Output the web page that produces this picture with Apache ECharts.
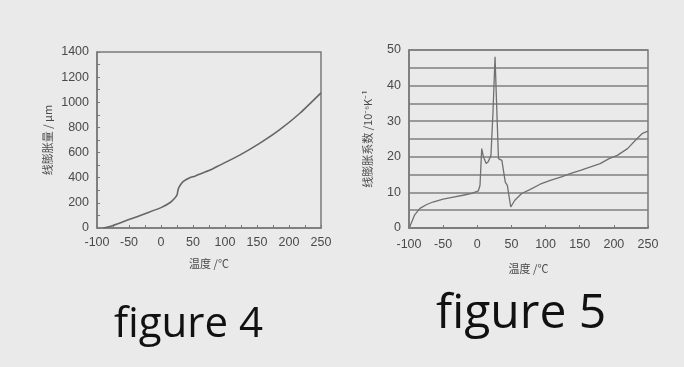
<!DOCTYPE html>
<html>
<head>
<meta charset="utf-8">
<script src="https://cdn.jsdelivr.net/npm/echarts@6/dist/echarts.min.js"></script>
<style>
  html, body { margin: 0; padding: 0; background: #eaeaea; }
  #chart { width: 684px; height: 367px; }
</style>
</head>
<body>
<div id="chart"></div>
<script>
// figure 4: 线膨胀量 vs 温度
const tempA = [-90, -75, -50, -25, 0, 15, 22, 25, 27, 30, 35, 45, 53, 60, 76, 92, 123, 154, 185, 217, 250];
const strainA = [0, 20, 67, 114, 162, 205, 240, 262, 310, 340, 370, 400, 412, 428, 459, 500, 580, 673, 780, 913, 1075];

// figure 5: 线膨胀系数 vs 温度
const tempB = [-99, -92, -84, -74, -65, -50, -35, -21, -8, 1.5, 4, 6.5, 9, 13, 16, 20, 23, 26, 28.5, 31, 36, 41, 44, 49, 55, 65, 77, 92, 107, 122, 136, 151, 166, 180, 193, 205, 220, 232, 242, 250];
const coefB = [0.3, 3.6, 5.5, 6.6, 7.3, 8.1, 8.7, 9.2, 9.7, 10.4, 12, 22.3, 20, 18.1, 18.6, 20.4, 32.6, 48.1, 33.6, 19.5, 19, 12.9, 12, 5.9, 7.8, 9.7, 10.8, 12.3, 13.4, 14.3, 15.3, 16.2, 17.2, 18.1, 19.5, 20.4, 22.3, 24.7, 26.6, 27.2];

// [min, max, tick step, label step]
const xTicksA = [-100, 250, 25, 50];
const xTicksB = [-100, 250, 50, 50];
const yTicksA = [0, 1400, 100, 200];
const yTicksB = [0, 50, 5, 10];

const labelFont = { color: '#4a4a4a', fontSize: 12.5, fontFamily: 'Liberation Sans' };
const cjkFont = { color: '#4a4a4a', fontSize: 11, fontFamily: 'Noto Sans CJK SC' };
const lineGray = '#7a7a7a';

const pairs = (xs, ys) => xs.map((x, i) => [x, ys[i]]);
const every = step => v => (v % step === 0 ? String(v) : '');

const myChart = echarts.init(document.getElementById('chart'));
const option = {
  backgroundColor: '#eaeaea',
  animation: false,
  grid: [
    { left: 97, top: 52, width: 224, height: 176, show: true, borderColor: lineGray, borderWidth: 1.5, backgroundColor: 'transparent' },
    { left: 409, top: 50, width: 239, height: 178, show: true, borderColor: lineGray, borderWidth: 1.5, backgroundColor: 'transparent' }
  ],
  xAxis: [
    {
      gridIndex: 0, type: 'value', min: xTicksA[0], max: xTicksA[1], interval: xTicksA[2],
      name: '温度 /℃', nameLocation: 'middle', nameGap: 30, nameTextStyle: cjkFont,
      axisLine: { onZero: false, lineStyle: { color: lineGray, width: 1.5 } },
      axisTick: { inside: true, length: 3, lineStyle: { color: lineGray } },
      axisLabel: Object.assign({ margin: 8, formatter: every(xTicksA[3]) }, labelFont),
      splitLine: { show: false }
    },
    {
      gridIndex: 1, type: 'value', min: xTicksB[0], max: xTicksB[1], interval: xTicksB[2],
      name: '温度 /℃', nameLocation: 'middle', nameGap: 35, nameTextStyle: cjkFont,
      axisLine: { onZero: false, lineStyle: { color: lineGray, width: 1.5 } },
      axisTick: { inside: true, length: 3, lineStyle: { color: lineGray } },
      axisLabel: Object.assign({ margin: 10, formatter: every(xTicksB[3]) }, labelFont),
      splitLine: { show: false }
    }
  ],
  yAxis: [
    {
      gridIndex: 0, type: 'value', min: yTicksA[0], max: yTicksA[1], interval: yTicksA[2],
      name: '线膨胀量 / μm', nameLocation: 'middle', nameGap: 44, nameTextStyle: cjkFont,
      axisLine: { show: true, onZero: false, lineStyle: { color: lineGray, width: 1.5 } },
      axisTick: { show: true, inside: true, length: 3, lineStyle: { color: lineGray } },
      axisLabel: Object.assign({ margin: 8, formatter: every(yTicksA[3]) }, labelFont),
      splitLine: { show: false }
    },
    {
      gridIndex: 1, type: 'value', min: yTicksB[0], max: yTicksB[1], interval: yTicksB[2],
      name: '线膨胀系数 /10⁻⁶K⁻¹', nameLocation: 'middle', nameGap: 36, nameTextStyle: cjkFont,
      axisLine: { show: true, onZero: false, lineStyle: { color: lineGray, width: 1.5 } },
      axisTick: { show: false },
      axisLabel: Object.assign({ margin: 8, formatter: every(yTicksB[3]) }, labelFont),
      splitLine: { show: true, lineStyle: { color: '#7f7f7f', width: 1.5 } }
    }
  ],
  series: [
    {
      type: 'line', xAxisIndex: 0, yAxisIndex: 0, smooth: 0.2, showSymbol: false,
      lineStyle: { color: '#666', width: 1.6 },
      data: pairs(tempA, strainA)
    },
    {
      type: 'line', xAxisIndex: 1, yAxisIndex: 1, smooth: false, showSymbol: false,
      lineStyle: { color: '#707070', width: 1.3 },
      data: pairs(tempB, coefB)
    }
  ],
  graphic: [
    { type: 'text', left: 114, top: 304, style: { text: 'figure 4', fill: '#111', fontSize: 42, fontFamily: 'Open Sans' } },
    { type: 'text', left: 436, top: 290, style: { text: 'figure 5', fill: '#111', fontSize: 48, fontFamily: 'Open Sans' } }
  ]
};
myChart.setOption(option);
</script>
</body>
</html>
